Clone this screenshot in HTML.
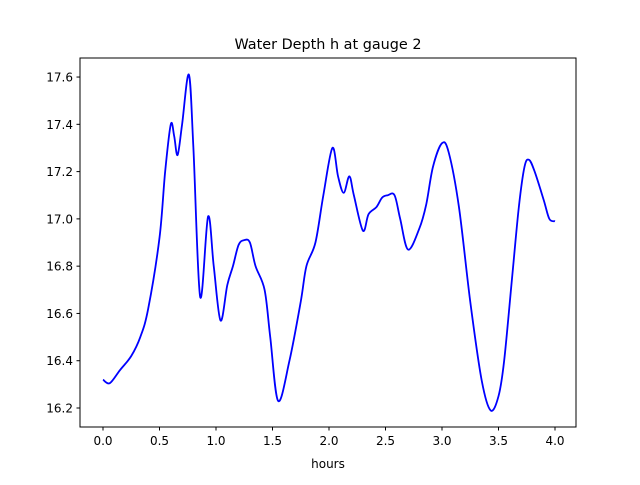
<!DOCTYPE html>
<html><head><meta charset="utf-8"><style>
body{margin:0;background:#fff;font-family:"Liberation Sans","DejaVu Sans",sans-serif}
</style></head><body>
<svg width="640" height="480" font-family="DejaVu Sans, Liberation Sans, sans-serif">
<rect width="640" height="480" fill="#fff"/>
<text x="328" y="49" text-anchor="middle" font-size="14.4">Water Depth h at gauge 2</text>
<g id="axes"></g>
<path id="line" fill="none" stroke="#0000ff" stroke-width="1.8"/>
<rect x="80" y="58" width="496" height="369" fill="none" stroke="#000" stroke-width="1"/>
<text x="328" y="468" text-anchor="middle" font-size="12">hours</text>
</svg>
<script>
const hours=[0,0.06,0.15,0.25,0.33,0.4,0.5,0.55,0.6,0.63,0.66,0.7,0.76,0.8,0.86,0.93,0.98,1.04,1.1,1.15,1.2,1.25,1.3,1.35,1.43,1.48,1.55,1.65,1.75,1.8,1.88,1.95,2.03,2.08,2.13,2.18,2.22,2.3,2.35,2.42,2.47,2.52,2.58,2.63,2.7,2.8,2.86,2.92,3.0,3.06,3.15,3.25,3.35,3.43,3.5,3.55,3.62,3.68,3.73,3.77,3.82,3.9,3.95,4.0];
const depth=[16.32,16.305,16.36,16.42,16.5,16.62,16.92,17.2,17.4,17.35,17.27,17.4,17.61,17.3,16.67,17.01,16.8,16.57,16.72,16.8,16.89,16.91,16.9,16.8,16.7,16.5,16.23,16.4,16.65,16.8,16.9,17.1,17.3,17.18,17.11,17.18,17.1,16.95,17.02,17.05,17.09,17.1,17.1,17.0,16.87,16.96,17.06,17.22,17.32,17.28,17.05,16.65,16.32,16.19,16.25,16.4,16.75,17.05,17.22,17.25,17.2,17.08,17.0,16.99];
const xTicks=["0.0","0.5","1.0","1.5","2.0","2.5","3.0","3.5","4.0"];
const yTicks=["16.2","16.4","16.6","16.8","17.0","17.2","17.4","17.6"];
const X=v=>103+v*113, Y=v=>408-(v-16.2)*236.4;
const ns="http://www.w3.org/2000/svg", g=document.getElementById('axes');
function mk(t,a){const e=document.createElementNS(ns,t);for(const k in a)e.setAttribute(k,a[k]);g.appendChild(e);return e;}
xTicks.forEach(t=>{const x=X(+t);
 const l=mk('line',{x1:x,x2:x,y1:427,y2:430.5,stroke:'#000'});
 
 
 const s=mk('text',{x:x,y:445,'text-anchor':'middle','font-size':12});s.textContent=t;
 
 });
yTicks.forEach(t=>{const y=Y(+t);
 const l=mk('line',{x1:76.5,x2:80,y1:y,y2:y,stroke:'#000'});
 
 
 const s=mk('text',{x:73,y:y+4.5,'text-anchor':'end','font-size':12});s.textContent=t;
 
 });
const P=hours.map((h,i)=>[X(h),Y(depth[i])]);
let d='M'+P[0].join(',');
for(let i=0;i<P.length-1;i++){const p0=P[i-1]||P[i],p1=P[i],p2=P[i+1],p3=P[i+2]||P[i+1];
 const c1=[p1[0]+(p2[0]-p0[0])/6,p1[1]+(p2[1]-p0[1])/6],c2=[p2[0]-(p3[0]-p1[0])/6,p2[1]-(p3[1]-p1[1])/6];
 d+=` C${c1} ${c2} ${p2}`;}
document.getElementById('line').setAttribute('d',d);
</script>
</body></html>
